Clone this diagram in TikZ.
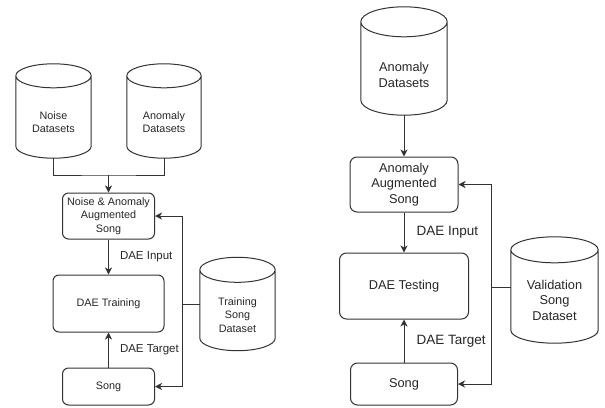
\documentclass[tikz,border=0pt]{standalone}
\usepackage{fontspec}
\setmainfont{Liberation Sans}
\usetikzlibrary{arrows.meta,calc}
\tikzset{
  lc/.style={draw=black!80, line width=1pt},
  fL/.style={font=\fontsize{10.8}{13.5}\selectfont, text=black!85},
  fR/.style={font=\fontsize{12.8}{15.5}\selectfont, text=black!85},
  boxL/.style={lc, fL, rounded corners=6pt, align=center, inner sep=0pt},
  boxR/.style={lc, fR, rounded corners=7pt, align=center, inner sep=0pt},
  cylnode/.style={inner sep=0pt},
  ctxtL/.style={fL, align=center, inner sep=0pt},
  ctxtR/.style={fR, align=center, inner sep=0pt},
  lblL/.style={font=\fontsize{11.5}{14}\selectfont, text=black!85, anchor=west, inner sep=0pt},
  lblR/.style={font=\fontsize{13.5}{16}\selectfont, text=black!85, anchor=west, inner sep=0pt},
  arr/.style={lc, -{Stealth[length=7pt,width=7pt,inset=2pt]}},
}
\newcommand\drawcyl[2]{%
  \draw[lc] let \p1=(#1.north west), \p2=(#1.south east), \n1={(\x2-\x1)/2} in
    (\x1,\y1-#2) -- (\x1,\y2+#2)
    arc[start angle=180,end angle=360,x radius=\n1*1pt,y radius=#2]
    -- (\x2,\y1-#2)
    arc[start angle=0,end angle=360,x radius=\n1*1pt,y radius=#2];}
\begin{document}
\begin{tikzpicture}[x=1pt,y=1pt]
\useasboundingbox (0,0) rectangle (605,-407);
% ---------- left ----------
\node[cylnode, minimum width=75pt, minimum height=94pt] (n1) at (53.5,-111) {};
\node[cylnode, minimum width=74pt, minimum height=94pt] (n2) at (164,-111) {};
\drawcyl{n1}{12pt}
\drawcyl{n2}{12pt}
\node[ctxtL] (n1t) at (53.5,-122) {Noise\\Datasets};
\node[ctxtL] (n2t) at (164,-122) {Anomaly\\Datasets};
\coordinate (m1) at (108.5,-175);
\node[boxL, minimum width=92pt, minimum height=46pt] (aug1) at (108.5,-216) {Noise \& Anomaly\\Augmented\\Song};
\node[boxL, minimum width=111pt, minimum height=57pt] (train) at (108.5,-303.5) {DAE Training};
\node[boxL, minimum width=92pt, minimum height=37pt] (song1) at (108.5,-386.5) {Song};
\node[cylnode, minimum width=75pt, minimum height=93pt] (tsd) at (237.5,-304) {};
\drawcyl{tsd}{12.5pt}
\node[ctxtL] (tsdt) at (237.5,-315) {Training\\Song\\Dataset};
\coordinate (b1) at (182,-304);
\draw[lc] (n1.south) |- (m1) -| (n2.south);
\draw[arr] (m1) -- (aug1.north);
\draw[arr] (aug1.south) -- node[lblL, midway, xshift=11pt] (li1) {DAE Input} (train.north);
\draw[arr] (song1.north) -- node[lblL, midway, xshift=11pt] (lt1) {DAE Target} (train.south);
\draw[lc] (tsd.west) -- (b1);
\draw[arr] (b1) |- (aug1.east);
\draw[arr] (b1) |- (song1.east);
% ---------- right ----------
\node[cylnode, minimum width=86pt, minimum height=108pt] (a3) at (404,-61) {};
\drawcyl{a3}{15pt}
\node[ctxtR] (a3t) at (404,-75) {Anomaly\\Datasets};
\node[boxR, minimum width=108pt, minimum height=55pt] (aug2) at (404,-184.5) {Anomaly\\Augmented\\Song};
\node[boxR, minimum width=129pt, minimum height=66pt] (test) at (404,-286) {DAE Testing};
\node[boxR, minimum width=107pt, minimum height=42pt] (song2) at (404,-384) {Song};
\node[cylnode, minimum width=87pt, minimum height=106pt] (vsd) at (554.5,-290) {};
\drawcyl{vsd}{13pt}
\node[ctxtR] (vsdt) at (554.5,-300) {Validation\\Song\\Dataset};
\coordinate (b2) at (491,-287);
\draw[arr] (a3.south) -- (aug2.north);
\draw[arr] (aug2.south) -- node[lblR, midway, xshift=12pt] (li2) {DAE Input} (test.north);
\draw[arr] (song2.north) -- node[lblR, midway, xshift=12pt] (lt2) {DAE Target} (test.south);
\draw[lc] (vsd.west |- b2) -- (b2);
\draw[arr] (b2) |- (aug2.east);
\draw[arr] (b2) |- (song2.east);
\end{tikzpicture}
\end{document}
